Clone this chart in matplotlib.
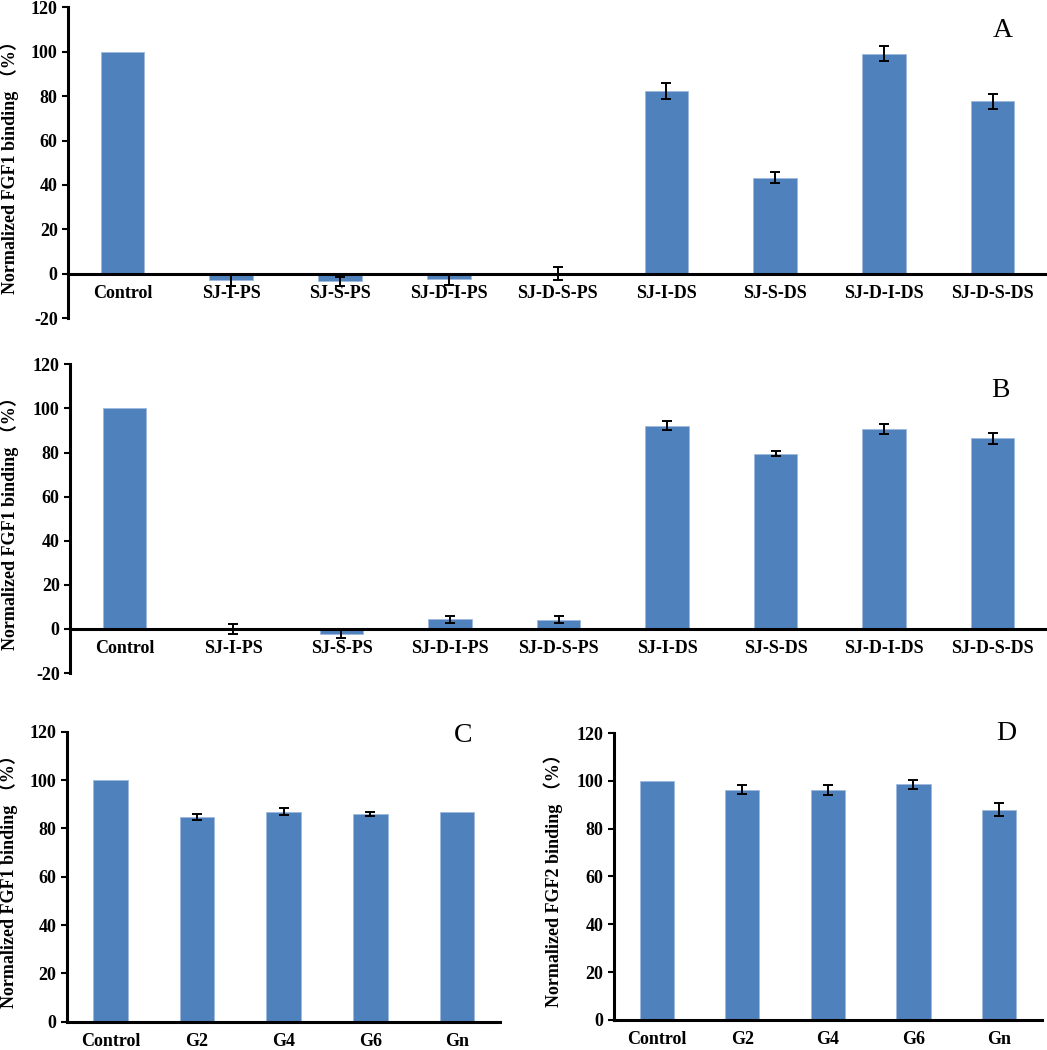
import matplotlib
matplotlib.use('Agg')
import matplotlib.pyplot as plt
import numpy as np

# panel A / B categories
cats_ab = ['Control', 'SJ-I-PS', 'SJ-S-PS', 'SJ-D-I-PS', 'SJ-D-S-PS',
           'SJ-I-DS', 'SJ-S-DS', 'SJ-D-I-DS', 'SJ-D-S-DS']
vals_a = [100, -2.8, -3.4, -2.5, 0, 82.3, 43.3, 99.2, 77.6]
errs_a = [0, 2.6, 2.0, 2.5, 3.0, 3.5, 2.6, 3.4, 3.4]
vals_b = [100, 0, -2.2, 4.4, 4.1, 92.2, 79.5, 90.6, 86.5]
errs_b = [0, 2.4, 2.0, 1.5, 1.6, 2.0, 1.0, 2.4, 2.5]

# panel C / D categories
cats_cd = ['Control', 'G2', 'G4', 'G6', 'Gn']
vals_c = [100, 84.8, 87.0, 86.0, 87.0]
errs_c = [0, 1.1, 1.3, 0.7, 0]
vals_d = [100, 96.3, 96.0, 98.5, 88.0]
errs_d = [0, 2.0, 2.1, 1.8, 2.8]

BLUE = '#4F81BD'
SERIF = ['Liberation Serif', 'Noto Sans CJK SC']
plt.rcParams['font.family'] = SERIF
plt.rcParams['axes.unicode_minus'] = False


def draw(ax, cats, vals, errs, ylim, ylabel, letter, letter_xy, label_x):
    x = np.arange(len(cats))
    vals = np.array(vals)
    errs = np.array(errs)
    ax.bar(x, vals, width=0.4, color=BLUE, edgecolor='#9db8dc', linewidth=0.6, zorder=2)
    has = errs > 0
    ax.errorbar(x[has], vals[has], yerr=errs[has], fmt='none',
                ecolor='black', elinewidth=1.4, capsize=3.5, capthick=1.4, zorder=3)
    ax.set_xlim(-0.5, len(cats) - 0.5)
    ax.set_ylim(*ylim)
    ax.set_yticks(np.arange(ylim[0], ylim[1] + 1, 20))
    ax.spines['top'].set_visible(False)
    ax.spines['right'].set_visible(False)
    ax.spines['bottom'].set_position(('data', 0))
    ax.spines['bottom'].set_linewidth(2.2)
    ax.spines['left'].set_linewidth(2.2)
    ax.set_xticks(x)
    ax.set_xticklabels(cats, fontweight='bold', fontsize=13)
    ax.tick_params(axis='x', length=0, pad=8)
    ax.tick_params(axis='y', direction='out', length=4, width=1.5, labelsize=13)
    for t in ax.get_yticklabels():
        t.set_fontweight('bold')
    ax.set_ylabel(ylabel, fontsize=13, fontweight='bold', family=SERIF)
    ax.yaxis.set_label_coords(label_x, 0.5)
    ax.text(letter_xy[0], letter_xy[1], letter, transform=ax.transAxes,
            fontsize=20, ha='center', va='center', family='Liberation Serif')


fig = plt.figure(figsize=(10.47, 10.5), dpi=100)

ax_a = fig.add_axes([0.065, 0.697, 0.935, 0.296])
ax_b = fig.add_axes([0.067, 0.359, 0.933, 0.294])
ax_c = fig.add_axes([0.064, 0.027, 0.414, 0.276])
ax_d = fig.add_axes([0.5864, 0.0286, 0.4086, 0.2733])

draw(ax_a, cats_ab, vals_a, errs_a, (-20, 120), 'Normalized FGF1 binding （%）',
     'A', (0.955, 0.926), -0.050)
draw(ax_b, cats_ab, vals_b, errs_b, (-20, 120), 'Normalized FGF1 binding （%）',
     'B', (0.952, 0.916), -0.052)
draw(ax_c, cats_cd, vals_c, errs_c, (0, 120), 'Normalized FGF1 binding （%）',
     'C', (0.915, 0.986), -0.113)
draw(ax_d, cats_cd, vals_d, errs_d, (0, 120), 'Normalized FGF2 binding （%）',
     'D', (0.918, 1.0), -0.119)

fig.savefig('out.png', dpi=100)
